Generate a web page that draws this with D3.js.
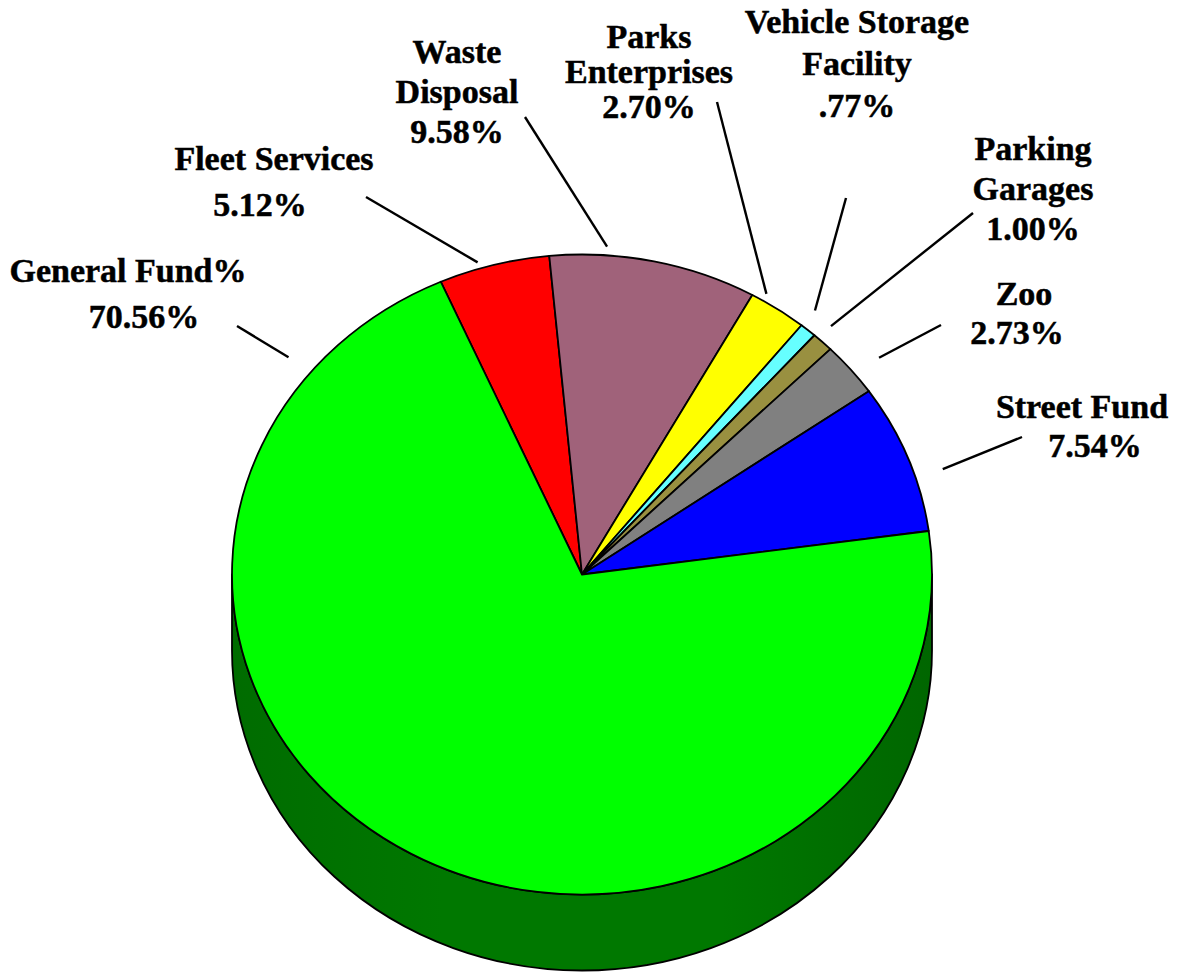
<!DOCTYPE html>
<html lang="en">
<head>
<meta charset="utf-8">
<title>Fund shares</title>
<script src="https://d3js.org/d3.v7.min.js"></script>
<style>
  body { margin: 0; background: #fff; }
  text { font-family: "Liberation Serif", "Times New Roman", serif; font-weight: bold; font-size: 34px; fill: #000; stroke: #000; stroke-width: 0.5px; }
</style>
</head>
<body>
<div id="chart"></div>
<script>
// data, clockwise starting from Fleet Services
var funds   = ["Fleet Services", "Waste Disposal", "Parks Enterprises", "Vehicle Storage Facility",
               "Parking Garages", "Zoo", "Street Fund", "General Fund"];
var shares  = [5.12, 9.58, 2.70, 0.77, 1.00, 2.73, 7.54, 70.56];
var shareLabels = ["5.12%", "9.58%", "2.70%", ".77%", "1.00%", "2.73%", "7.54%", "70.56%"];
var colors  = ["#ff0000", "#a0627a", "#ffff00", "#66ffff", "#999040", "#808080", "#0000ff", "#00ff00"];
var sideColor = "#007800";

// label text lines (name lines, then the value)
var labelLines = [
  ["Fleet Services"],
  ["Waste", "Disposal"],
  ["Parks", "Enterprises"],
  ["Vehicle Storage", "Facility"],
  ["Parking", "Garages"],
  ["Zoo"],
  ["Street Fund"],
  ["General Fund%"]
];

// layout: label centre x, first baseline, line step, per-line x shifts; leader line outer end and angle on the rim
var labelLayout = [
  { x: 274, y: 170, step: 46, dx: [0, -14], out: [366, 197], ang: -17, r: 1.02 },
  { x: 457, y: 63,  step: 40, dx: [0, 0, 0], out: [525, 117], ang: 4,   r: 1.027 },
  { x: 649, y: 48,  step: 35, dx: [0, 0, 0], out: [717, 102], ang: 31,  r: 1.023 },
  { x: 857, y: 33,  step: 42, dx: [0, 0, 0], out: [846, 198], ang: 38.9, r: 1.06 },
  { x: 1033, y: 160, step: 40, dx: [0, 0, 0], out: [973, 213], ang: 42.5, r: 1.053 },
  { x: 1024, y: 305, step: 39, dx: [0, -7], out: [941, 325], ang: 51.4, r: 1.086 },
  { x: 1082, y: 418, step: 39, dx: [0, 13], out: [1022, 437], ang: 72.3, r: 1.082 },
  { x: 128, y: 282, step: 46, dx: [0, 16], out: [237, 326], ang: -51, r: 1.079 }
];

var W = 1181, H = 972;
var cx = 582, cy = 574.5, rx = 350, ry = 320, depth = 76;
var startDeg = -23.8;

var svg = d3.select("#chart").append("svg")
  .attr("width", W).attr("height", H);

var defs = svg.append("defs");
var grad = defs.append("linearGradient").attr("id", "sideGrad")
  .attr("x1", "0").attr("x2", "1").attr("y1", "0").attr("y2", "0");
grad.append("stop").attr("offset", "0%").attr("stop-color", "#006c00");
grad.append("stop").attr("offset", "30%").attr("stop-color", sideColor);
grad.append("stop").attr("offset", "70%").attr("stop-color", sideColor);
grad.append("stop").attr("offset", "100%").attr("stop-color", "#006600");

var pie = d3.pie().sort(null).value(d => d)
  .startAngle(startDeg * Math.PI / 180)
  .endAngle(startDeg * Math.PI / 180 + 2 * Math.PI);
var arcs = pie(shares);

// point on the top ellipse for angle a (radians, clockwise from 12 o'clock)
function pt(a, k, dy) {
  k = k || 1; dy = dy || 0;
  return [cx + k * rx * Math.sin(a), cy - k * ry * Math.cos(a) + dy];
}

// side wall: only the front half (90deg..270deg) is visible
function sidePath(a0, a1) {
  var lo = Math.max(a0, Math.PI / 2), hi = Math.min(a1, 3 * Math.PI / 2);
  if (hi <= lo) {
    lo = Math.max(a0 + 2 * Math.PI, Math.PI / 2);
    hi = Math.min(a1 + 2 * Math.PI, 3 * Math.PI / 2);
    if (hi <= lo) return null;
  }
  var p0 = pt(lo), p1 = pt(hi), q1 = pt(hi, 1, depth), q0 = pt(lo, 1, depth);
  var large = (hi - lo) > Math.PI ? 1 : 0;
  return "M" + p0 + "A" + rx + "," + ry + " 0 " + large + " 1 " + p1 +
         "L" + q1 + "A" + rx + "," + ry + " 0 " + large + " 0 " + q0 + "Z";
}

svg.append("g").selectAll("path")
  .data(arcs)
  .join("path")
  .attr("d", d => sidePath(d.startAngle, d.endAngle))
  .attr("fill", "url(#sideGrad)")
  .attr("stroke", "#000")
  .attr("stroke-width", 1.8)
  .attr("stroke-linejoin", "round");

// top face: circular d3 arcs squashed into the ellipse
var arc = d3.arc().innerRadius(0).outerRadius(rx);
svg.append("g")
  .attr("transform", `translate(${cx},${cy}) scale(1,${ry / rx})`)
  .selectAll("path")
  .data(arcs)
  .join("path")
  .attr("d", arc)
  .attr("fill", (d, i) => colors[i])
  .attr("stroke", "#000")
  .attr("stroke-width", 1.8)
  .attr("stroke-linejoin", "round")
  .attr("vector-effect", "non-scaling-stroke");

// leader lines
svg.append("g").selectAll("line")
  .data(labelLayout)
  .join("line")
  .attr("x1", d => d.out[0])
  .attr("y1", d => d.out[1])
  .attr("x2", d => pt(d.ang * Math.PI / 180, d.r)[0])
  .attr("y2", d => pt(d.ang * Math.PI / 180, d.r)[1])
  .attr("stroke", "#000")
  .attr("stroke-width", 2.4);

// labels
var labels = svg.append("g").selectAll("text")
  .data(funds)
  .join("text")
  .attr("text-anchor", "middle");

labels.each(function(d, i) {
  var lay = labelLayout[i];
  var lines = labelLines[i].concat([shareLabels[i]]);
  d3.select(this).selectAll("tspan")
    .data(lines)
    .join("tspan")
    .attr("x", (t, j) => lay.x + (lay.dx[j] || 0))
    .attr("y", (t, j) => lay.y + j * lay.step)
    .text(t => t);
});
</script>
</body>
</html>
